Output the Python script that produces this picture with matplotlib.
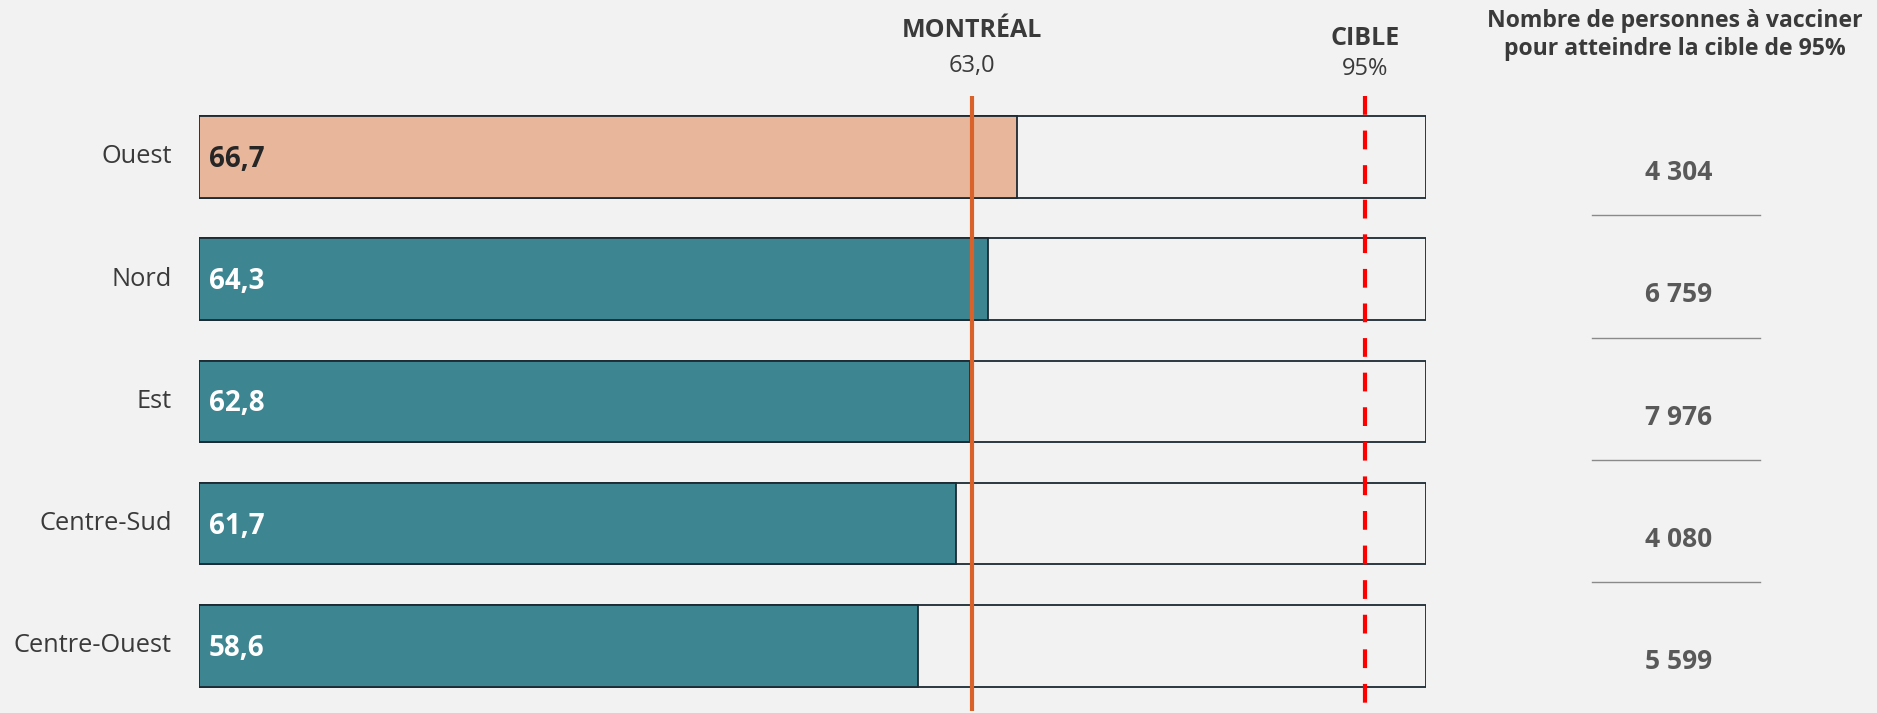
import matplotlib.pyplot as plt

plt.rcParams['font.family'] = ['Open Sans', 'DejaVu Sans']

# Couverture vaccinale par secteur (%)
secteurs = ['Ouest', 'Nord', 'Est', 'Centre-Sud', 'Centre-Ouest']
couverture = [66.7, 64.3, 62.8, 61.7, 58.6]
a_vacciner = ['4 304', '6 759', '7 976', '4 080', '5 599']
moyenne_mtl = 63.0
cible = 95

fond = '#F2F2F2'
teal = '#3E8592'
peche = '#E8B79B'
contour = '#1C2A33'
texte = '#3A3A3A'

fig = plt.figure(figsize=(18.77, 7.13), dpi=100, facecolor=fond)
ax = fig.add_axes([0.1059, 0.0, 0.6539, 1.0])
ax.set_facecolor(fond)
ax.set_xlim(0, 100)
ax.set_ylim(4.548, -1.282)
ax.axis('off')

h = 0.666
couleurs = [peche] + [teal] * (len(secteurs) - 1)
for i, (nom, val) in enumerate(zip(secteurs, couverture)):
    # cadre complet 0-100 puis la barre de couverture
    ax.barh(i, 100, height=h, color=fond, edgecolor=contour, linewidth=1.3, zorder=1)
    ax.barh(i, val, height=h, color=couleurs[i], edgecolor=contour, linewidth=1.3, zorder=2)
    ax.text(-2.2, i, nom, ha='right', va='center', fontsize=18.3, color=texte)
    ax.text(0.8, i + 0.02, f'{val:.1f}'.replace('.', ','), ha='left', va='center',
            fontsize=20, fontweight='bold',
            color='#262626' if i == 0 else 'white', zorder=4)
    ax.text(120.6, i + 0.13, a_vacciner[i], ha='center', va='center', fontsize=19,
            fontweight='bold', color='#595959', clip_on=False)
    if i < len(secteurs) - 1:
        ax.plot([113.5, 127.2], [i + 0.48, i + 0.48], color='#8A8A8A', lw=1.0,
                clip_on=False)

# lignes de référence
ax.vlines(moyenne_mtl, -0.5, 4.53, color='#D9622B', lw=3, zorder=3)
ax.vlines(cible, -0.5, 4.6, color='#FF0000', lw=3, linestyles=(0, (4.5, 3.8)), zorder=3)

ax.text(moyenne_mtl, -1.03, 'MONTRÉAL', ha='center', va='center', fontsize=18,
        fontweight='bold', color=texte)
ax.text(moyenne_mtl, -0.74, f'{moyenne_mtl:.1f}'.replace('.', ','), ha='center',
        va='center', fontsize=17, fontweight='medium', color=texte)
ax.text(cible, -0.97, 'CIBLE', ha='center', va='center', fontsize=18,
        fontweight='bold', color=texte)
ax.text(cible, -0.72, f'{cible}%', ha='center', va='center', fontsize=17,
        fontweight='medium', color=texte)

fig.text(0.8925, 0.951, 'Nombre de personnes à vacciner\npour atteindre la cible de 95%',
         ha='center', va='center', fontsize=16.6, fontweight='bold', color=texte,
         linespacing=1.2)

fig.savefig('out.png', dpi=100, facecolor=fond)
